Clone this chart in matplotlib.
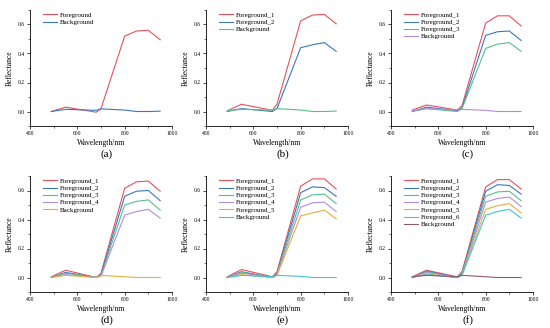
import matplotlib
matplotlib.use("Agg")
import matplotlib.pyplot as plt
from matplotlib.ticker import MultipleLocator

plt.rcParams['font.family'] = ['Liberation Serif', 'DejaVu Serif']

# band centres (nm)
wl = [490, 550, 680, 700, 800, 850, 900, 950]

# panel (a)
a_fg = [0.0, 0.03, -0.005, 0.02, 0.52, 0.555, 0.56, 0.495]
a_bg = [0.0, 0.015, 0.008, 0.018, 0.01, 0.0, 0.0, 0.002]

# panel (b)
b_f1 = [0.005, 0.05, 0.008, 0.05, 0.625, 0.665, 0.67, 0.605]
b_f2 = [0.0, 0.02, 0.0, 0.02, 0.44, 0.46, 0.475, 0.415]
b_bg = [0.005, 0.015, 0.01, 0.02, 0.01, 0.0, 0.0, 0.003]

# panel (c)
c_f1 = [0.01, 0.045, 0.01, 0.04, 0.61, 0.66, 0.66, 0.59]
c_f2 = [0.0, 0.03, 0.005, 0.025, 0.525, 0.55, 0.555, 0.49]
c_f3 = [0.0, 0.02, 0.0, 0.02, 0.435, 0.465, 0.475, 0.415]
c_bg = [0.005, 0.02, 0.01, 0.015, 0.008, 0.0, 0.0, 0.0]

# panel (d)
d_f1 = [0.005, 0.05, 0.0, 0.03, 0.615, 0.66, 0.665, 0.595]
d_f2 = [0.0, 0.035, 0.0, 0.02, 0.56, 0.595, 0.6, 0.53]
d_f3 = [0.0, 0.03, 0.0, 0.015, 0.5, 0.525, 0.535, 0.465]
d_f4 = [0.0, 0.02, 0.0, 0.01, 0.43, 0.455, 0.47, 0.41]
d_bg = [0.0, 0.015, 0.0, 0.015, 0.005, 0.0, 0.0, 0.0]

# panel (e)
e_f1 = [0.005, 0.055, 0.005, 0.04, 0.63, 0.68, 0.68, 0.61]
e_f2 = [0.0, 0.04, 0.0, 0.03, 0.585, 0.625, 0.62, 0.56]
e_f3 = [0.0, 0.035, 0.0, 0.025, 0.535, 0.57, 0.575, 0.51]
e_f4 = [0.0, 0.03, 0.0, 0.02, 0.485, 0.515, 0.52, 0.455]
e_f5 = [0.0, 0.02, 0.0, 0.015, 0.425, 0.445, 0.465, 0.405]
e_bg = [0.0, 0.015, 0.005, 0.015, 0.008, 0.0, 0.0, 0.0]

# panel (f)
f_f1 = [0.005, 0.05, 0.005, 0.04, 0.625, 0.675, 0.675, 0.61]
f_f2 = [0.0, 0.045, 0.0, 0.03, 0.595, 0.64, 0.635, 0.575]
f_f3 = [0.0, 0.04, 0.0, 0.025, 0.56, 0.59, 0.595, 0.53]
f_f4 = [0.0, 0.035, 0.0, 0.02, 0.52, 0.545, 0.555, 0.49]
f_f5 = [0.0, 0.025, 0.0, 0.02, 0.47, 0.495, 0.51, 0.445]
f_f6 = [0.0, 0.02, 0.0, 0.015, 0.43, 0.455, 0.47, 0.41]
f_bg = [0.005, 0.015, 0.005, 0.015, 0.005, 0.0, 0.0, 0.0]

colors = ['#E5515B', '#3A77BE', '#57BF8A', '#B28BE0', '#E8AE3C', '#3FC6CF', '#8E5B6E']

panels = [
    ('(a)', [a_fg, a_bg], ['Foreground', 'Background']),
    ('(b)', [b_f1, b_f2, b_bg], ['Foreground_1', 'Foreground_2', 'Background']),
    ('(c)', [c_f1, c_f2, c_f3, c_bg], ['Foreground_1', 'Foreground_2', 'Foreground_3', 'Background']),
    ('(d)', [d_f1, d_f2, d_f3, d_f4, d_bg],
     ['Foreground_1', 'Foreground_2', 'Foreground_3', 'Foreground_4', 'Background']),
    ('(e)', [e_f1, e_f2, e_f3, e_f4, e_f5, e_bg],
     ['Foreground_1', 'Foreground_2', 'Foreground_3', 'Foreground_4', 'Foreground_5', 'Background']),
    ('(f)', [f_f1, f_f2, f_f3, f_f4, f_f5, f_f6, f_bg],
     ['Foreground_1', 'Foreground_2', 'Foreground_3', 'Foreground_4', 'Foreground_5', 'Foreground_6',
      'Background']),
]

W, H = 550, 328
fig = plt.figure(figsize=(5.5, 3.28), dpi=100)

lefts = [30, 206, 391]
tops = [10, 176]
aw, ah = 142, 116

for i, (cap, series, names) in enumerate(panels):
    r, c = divmod(i, 3)
    x0, y0 = lefts[c], tops[r]
    ax = fig.add_axes([x0 / W, 1 - (y0 + ah) / H, aw / W, ah / H])
    for k, (s, n) in enumerate(zip(series, names)):
        ax.plot(wl, s, color=colors[k], lw=0.8, label=n)
    ax.set_xlim(400, 1000)
    ax.set_ylim(-0.1, 0.7)
    ax.xaxis.set_major_locator(MultipleLocator(200))
    ax.xaxis.set_minor_locator(MultipleLocator(100))
    ax.yaxis.set_major_locator(MultipleLocator(0.2))
    ax.yaxis.set_minor_locator(MultipleLocator(0.1))
    ax.yaxis.set_major_formatter(plt.FuncFormatter(lambda v, p: '%.1f' % v))
    for sp in ['top', 'right']:
        ax.spines[sp].set_visible(False)
    for sp in ['left', 'bottom']:
        ax.spines[sp].set_linewidth(0.6)
    ax.tick_params(which='major', length=2, width=0.5, labelsize=4, pad=1.5)
    ax.tick_params(which='minor', length=1.2, width=0.4)
    ax.set_xlabel('Wavelength/nm', fontsize=5.5, labelpad=2)
    ax.set_ylabel('Reflectance', fontsize=5.5, labelpad=3)
    ax.legend(loc='upper left', bbox_to_anchor=(0.06, 1.02), frameon=False, fontsize=5,
              handlelength=2.0, handletextpad=0.4, labelspacing=0.2, borderaxespad=0.2)
    fig.text((x0 + aw / 2 + 6) / W, 1 - (y0 + ah + 28) / H, cap, ha='center', va='center', fontsize=8)

fig.savefig('out.png', dpi=100)
